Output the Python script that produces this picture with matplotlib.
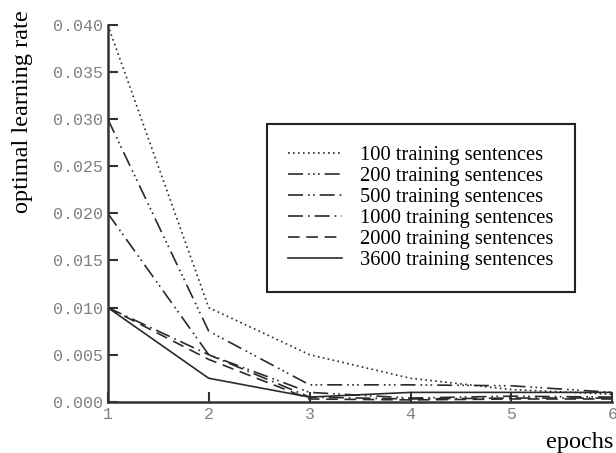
import matplotlib.pyplot as plt

epochs = [1, 2, 3, 4, 5, 6]
lr_100 = [0.040, 0.010, 0.005, 0.0025, 0.0013, 0.0008]
lr_200 = [0.030, 0.0075, 0.0018, 0.0018, 0.0017, 0.0010]
lr_500 = [0.020, 0.005, 0.0010, 0.0004, 0.0006, 0.0005]
lr_1000 = [0.010, 0.005, 0.0005, 0.0003, 0.0004, 0.0004]
lr_2000 = [0.010, 0.0045, 0.0003, 0.0002, 0.0003, 0.0003]
lr_3600 = [0.010, 0.0025, 0.0005, 0.0010, 0.0010, 0.0010]
labels = ["100 training sentences", "200 training sentences", "500 training sentences",
          "1000 training sentences", "2000 training sentences", "3600 training sentences"]

fig = plt.figure(figsize=(6.16, 4.53), dpi=100)
ax = fig.add_axes([0.175, 0.113, 0.819, 0.832])

styles = [
    (0, (1, 2)),
    (0, (9, 3, 1, 2, 1, 2, 1, 3)),
    (0, (9, 3, 1, 2, 1, 3)),
    (0, (9, 3, 1, 3)),
    (0, (7, 4)),
    '-',
]
series = [lr_100, lr_200, lr_500, lr_1000, lr_2000, lr_3600]
for vals, ls, lab in zip(series, styles, labels):
    ax.plot(epochs, vals, color='#2a2a2a', lw=1.2, linestyle=ls, label=lab)

ax.set_xlim(1, 6)
ax.set_ylim(0, 0.040)
ax.set_xticks(epochs)
ax.set_yticks([0.0, 0.005, 0.010, 0.015, 0.020, 0.025, 0.030, 0.035, 0.040])
ax.set_yticklabels([f"{v:.3f}" for v in ax.get_yticks()])
ax.tick_params(direction='in', length=7, width=1.5, colors='#333333', labelcolor='#808080',
               labelsize=12)
for lbl in ax.get_xticklabels() + ax.get_yticklabels():
    lbl.set_family('Liberation Mono')
ax.spines['top'].set_visible(False)
ax.spines['right'].set_visible(False)
for s in ['left', 'bottom']:
    ax.spines[s].set_linewidth(1.8)
    ax.spines[s].set_color('#333333')

leg = ax.legend(loc='upper left', bbox_to_anchor=(0.315, 0.737), borderaxespad=0, frameon=True,
                fancybox=False, edgecolor='#222222', framealpha=1, handlelength=2.6,
                handletextpad=0.9, borderpad=1.05, labelspacing=0.08,
                prop={'family': 'Liberation Serif', 'size': 14.8})
leg.get_frame().set_linewidth(1.5)

fig.text(0.036, 0.978, "optimal learning rate", rotation=90, ha='center', va='top',
         family='Liberation Serif', fontsize=17.5)
fig.text(0.995, 0.0, "epochs", ha='right', va='bottom', family='Liberation Serif', fontsize=17.5)

fig.savefig("out.png", dpi=100)
